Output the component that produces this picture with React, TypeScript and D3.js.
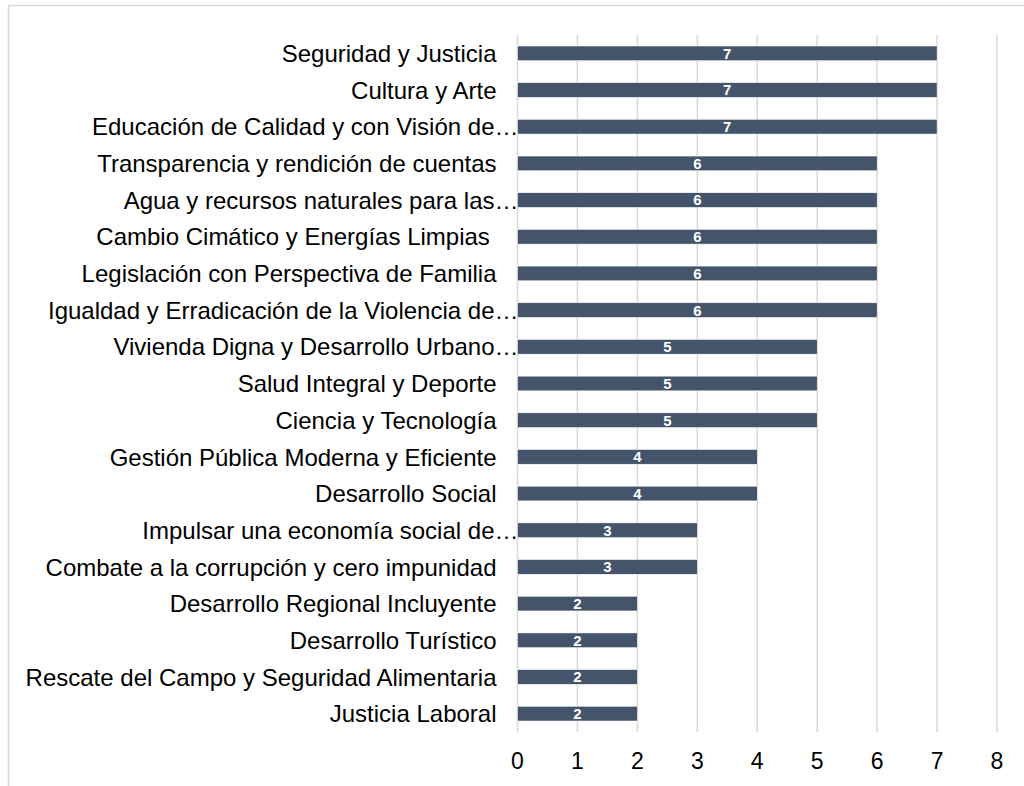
import React from "react";
import * as d3 from "d3";

const categories = [
  "Seguridad y Justicia",
  "Cultura y Arte",
  "Educación de Calidad y con Visión de…",
  "Transparencia y rendición de cuentas",
  "Agua y recursos naturales para las…",
  "Cambio Cimático y Energías Limpias ",
  "Legislación con Perspectiva de Familia",
  "Igualdad y Erradicación de la Violencia de…",
  "Vivienda Digna y Desarrollo Urbano…",
  "Salud Integral y Deporte",
  "Ciencia y Tecnología",
  "Gestión Pública Moderna y Eficiente",
  "Desarrollo Social",
  "Impulsar una economía social de…",
  "Combate a la corrupción y cero impunidad",
  "Desarrollo Regional Incluyente",
  "Desarrollo Turístico",
  "Rescate del Campo y Seguridad Alimentaria",
  "Justicia Laboral",
];
const values = [7, 7, 7, 6, 6, 6, 6, 6, 5, 5, 5, 4, 4, 3, 3, 2, 2, 2, 2];
const ticks = [0, 1, 2, 3, 4, 5, 6, 7, 8];

export default function App() {
  const W = 1024, H = 786;
  const x = d3.scaleLinear().domain([0, 8]).range([517.5, 997]);
  const y = d3.scaleBand<string>().domain(categories).range([35, 732]).paddingInner(0.6).paddingOuter(0.3);
  const font = "Arial, 'Liberation Sans', Helvetica, sans-serif";
  return (
    <svg width={W} height={H} style={{ position: "absolute", left: 0, top: 0 }}>
      <rect x={0} y={0} width={W} height={H} fill="#fff" />
      <rect x={8.5} y={5.5} width={W + 10} height={H + 10} fill="none" stroke="#d9d9d9" strokeWidth={1.5} />
      {ticks.map((t) => (
        <line key={t} x1={x(t)} x2={x(t)} y1={35} y2={732} stroke="#d9d9d9" strokeWidth={1.5} />
      ))}
      {categories.map((c, i) => {
        const yc = y(c)! + y.bandwidth() / 2;
        const trunc = c.endsWith("…");
        return (
          <g key={c}>
            <rect x={x(0)} y={y(c)} width={x(values[i]) - x(0)} height={y.bandwidth()} fill="#44546A" stroke="#ffffff" strokeWidth={0.5} />
            <text x={(x(0) + x(values[i])) / 2} y={yc} dy="0.36em" textAnchor="middle" fill="#fff" fontSize={15} fontWeight="bold" fontFamily={font}>
              {values[i]}
            </text>
            <text x={trunc ? x(0) + 1 : x(0) - 21} y={yc} dy="0.36em" textAnchor="end" fill="#000" fontSize={24} fontFamily={font} style={{ whiteSpace: "pre" }}>
              {c}
            </text>
          </g>
        );
      })}
      {ticks.map((t) => (
        <text key={"l" + t} x={x(t)} y={761} dy="0.36em" textAnchor="middle" fill="#000" fontSize={23} fontFamily={font}>
          {t}
        </text>
      ))}
    </svg>
  );
}
